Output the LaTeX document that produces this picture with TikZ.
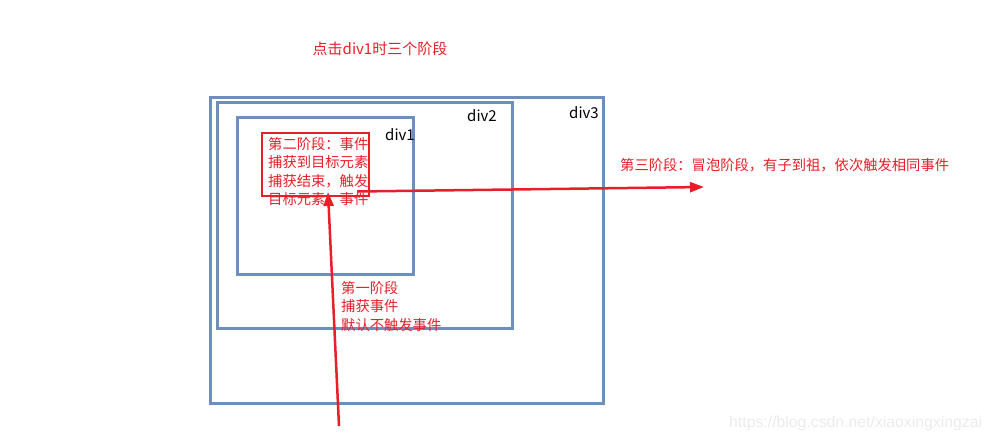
\documentclass[tikz,border=0pt]{standalone}
\usepackage{fontspec}
\newfontfamily\cjk{Noto Sans CJK SC}
\usetikzlibrary{arrows.meta}
\definecolor{divblue}{RGB}{110,143,187}
\definecolor{evred}{RGB}{232,30,40}
\tikzset{
  divbox/.style={draw=divblue, line width=3pt, anchor=north west, inner sep=0pt, outer sep=0pt},
  redbox/.style={draw=evred, line width=2pt, anchor=north west, inner sep=0pt, outer sep=0pt},
  redtxt/.style={text=evred, font=\cjk\fontsize{14.3}{18.5}\selectfont, align=left, inner sep=0pt, anchor=north west},
  divlbl/.style={text=black, font=\cjk\fontsize{15}{18}\selectfont, inner sep=0pt},
  evarrow/.style={draw=evred, line width=2.5pt, -{Triangle[length=14pt,width=10pt]}},
}
\begin{document}
\begin{tikzpicture}[x=1pt,y=-1pt]
\useasboundingbox (0,0) rectangle (992,440);
\node[redtxt, anchor=center, font=\cjk\fontsize{15}{18}\selectfont] (title) at (380,49) {点击div1时三个阶段};
\node[divbox, minimum width=393pt, minimum height=306pt] (div3) at (210,97) {};
\node[divbox, minimum width=295pt, minimum height=226pt] (div2) at (217,102) {};
\node[divbox, minimum width=176pt, minimum height=157pt] (div1) at (237,117) {};
\node[divlbl] (l3) at (584,113) {div3};
\node[divlbl] (l2) at (482,116) {div2};
\node[divlbl] (l1) at (400,135) {div1};
\node[redbox, minimum width=107pt, minimum height=63pt] (rbox) at (262,133) {};
\node[redtxt] (t2) at (268,137) {第二阶段：事件\\捕获到目标元素\\捕获结束，触发\\目标元素，事件};
\node[redtxt] (t1) at (341,281) {第一阶段\\捕获事件\\默认不触发事件};
\node[redtxt] (t3) at (620,158) {第三阶段：冒泡阶段，有子到祖，依次触发相同事件};
\node[text=black!8, font=\fontspec{Liberation Sans}\fontsize{15.8}{18}\selectfont, inner sep=0pt, anchor=west] (wm) at (729,423) {https://blog.csdn.net/xiaoxingxingzai};
\coordinate (capS) at (339,426);
\coordinate (capE) at (328,192);
\coordinate (bubS) at (357,191.5);
\coordinate (bubE) at (704,187);
\draw[evarrow] (capS) -- (capE);
\draw[evarrow] (bubS) -- (bubE);
\end{tikzpicture}
\end{document}
